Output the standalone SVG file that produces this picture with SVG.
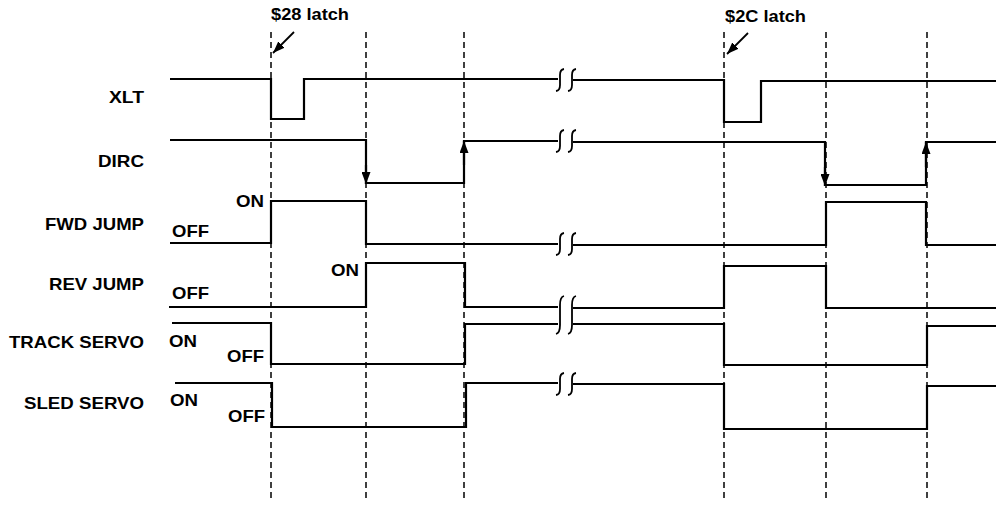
<svg xmlns="http://www.w3.org/2000/svg" width="996" height="506" viewBox="0 0 996 506">
<style>
  text { font-family: "Liberation Sans", Arial, sans-serif; font-weight: bold; font-size: 16.5px; fill: #000; }
  .sig { fill: none; stroke: #000; stroke-width: 2.2; stroke-linejoin: miter; }
  .guide { fill: none; stroke: #000; stroke-width: 1.5; stroke-dasharray: 6 4; }
  .brk { fill: none; stroke: #000; stroke-width: 1.8; }
  .edge { fill: none; stroke: #000; stroke-width: 2.2; marker-end: url(#ah); }
  .pointer { fill: none; stroke: #000; stroke-width: 1.8; marker-end: url(#ah2); }
</style>
<defs>
  <marker id="ah" markerUnits="userSpaceOnUse" markerWidth="12" markerHeight="9" refX="12" refY="4.5" orient="auto" viewBox="0 0 12 9">
    <path d="M0,0 L12,4.5 L0,9 Z" fill="#000"/>
  </marker>
  <marker id="ah2" markerUnits="userSpaceOnUse" markerWidth="12" markerHeight="9" refX="12" refY="4.5" orient="auto" viewBox="0 0 12 9">
    <path d="M0,0 L12,4.5 L0,9 Z" fill="#000"/>
  </marker>
  <path id="brkS" d="M4,-11 Q0,-10.5 0,-5 L0,5 Q0,10.5 -4,11"/>
  <path id="brkT" d="M4,-19 Q0,-18 0,-10 L0,10 Q0,18 -4,19"/>
</defs>

<g id="guides">
  <line class="guide" x1="271" y1="32" x2="271" y2="500"/>
  <line class="guide" x1="366" y1="32" x2="366" y2="500"/>
  <line class="guide" x1="464" y1="32" x2="464" y2="500"/>
  <line class="guide" x1="724" y1="32" x2="724" y2="500"/>
  <line class="guide" x1="826" y1="32" x2="826" y2="500"/>
  <line class="guide" x1="927" y1="32" x2="927" y2="500"/>
</g>

<g id="latch28">
  <text x="271" y="20" textLength="78" lengthAdjust="spacingAndGlyphs">$28 latch</text>
</g>
<g id="latch2C">
  <text x="725" y="22" textLength="81" lengthAdjust="spacingAndGlyphs">$2C latch</text>
</g>

<g id="XLT">
  <text x="109" y="103" textLength="35" lengthAdjust="spacingAndGlyphs">XLT</text>
  <path class="sig" d="M170,79 H271 V119 H304 V79 H558"/>
  <path class="sig" d="M573,80 H724 V122 H761 V81 H996"/>
  <use href="#brkS" class="brk" x="560" y="80"/>
  <use href="#brkS" class="brk" x="572" y="80"/>
</g>

<g id="DIRC">
  <text x="98" y="167" textLength="46" lengthAdjust="spacingAndGlyphs">DIRC</text>
  <path class="sig" d="M170,140 H366 V183 H464 V141 H558"/>
  <path class="sig" d="M573,142 H825 V185 H926 V142 H996"/>
  <use href="#brkS" class="brk" x="560" y="141"/>
  <use href="#brkS" class="brk" x="572" y="141"/>
</g>

<g id="FWD_JUMP">
  <text x="45" y="230" textLength="99" lengthAdjust="spacingAndGlyphs">FWD JUMP</text>
  <text x="236" y="207" textLength="28" lengthAdjust="spacingAndGlyphs">ON</text>
  <text x="172" y="237" textLength="37" lengthAdjust="spacingAndGlyphs">OFF</text>
  <path class="sig" d="M170,243 H271 V201 H366 V244 H558"/>
  <path class="sig" d="M573,245 H826 V202 H926 V245 H996"/>
  <use href="#brkS" class="brk" x="560" y="244"/>
  <use href="#brkS" class="brk" x="572" y="244"/>
</g>

<g id="REV_JUMP">
  <text x="49" y="290" textLength="95" lengthAdjust="spacingAndGlyphs">REV JUMP</text>
  <text x="331" y="276" textLength="28" lengthAdjust="spacingAndGlyphs">ON</text>
  <text x="172" y="299" textLength="37" lengthAdjust="spacingAndGlyphs">OFF</text>
  <path class="sig" d="M169,307 H366 V263 H465 V307 H558"/>
  <path class="sig" d="M573,308 H724 V266 H826 V308 H996"/>
</g>

<g id="TRACK_SERVO">
  <text x="9" y="348" textLength="135" lengthAdjust="spacingAndGlyphs">TRACK SERVO</text>
  <text x="169" y="347" textLength="28" lengthAdjust="spacingAndGlyphs">ON</text>
  <text x="227" y="362" textLength="37" lengthAdjust="spacingAndGlyphs">OFF</text>
  <path class="sig" d="M172,323 H271 V364 H465 V324 H558"/>
  <path class="sig" d="M573,324 H724 V365 H927 V326 H996"/>
  <use href="#brkT" class="brk" x="560" y="315"/>
  <use href="#brkT" class="brk" x="572" y="315"/>
</g>

<g id="SLED_SERVO">
  <text x="24" y="409" textLength="120" lengthAdjust="spacingAndGlyphs">SLED SERVO</text>
  <text x="170" y="406" textLength="28" lengthAdjust="spacingAndGlyphs">ON</text>
  <text x="228" y="422" textLength="37" lengthAdjust="spacingAndGlyphs">OFF</text>
  <path class="sig" d="M175,383 H272 V427 H466 V383 H558"/>
  <path class="sig" d="M573,384 H724 V429 H927 V386 H996"/>
  <use href="#brkS" class="brk" x="560" y="384"/>
  <use href="#brkS" class="brk" x="572" y="384"/>
</g>

<g id="connectors">
  <path class="pointer" d="M294,32 L273,53"/>
  <path class="pointer" d="M748,33 L727,54"/>
  <path class="edge" d="M366,165 V184"/>
  <path class="edge" d="M464,165 V141"/>
  <path class="edge" d="M825,167 V186"/>
  <path class="edge" d="M926,167 V142"/>
</g>
</svg>
